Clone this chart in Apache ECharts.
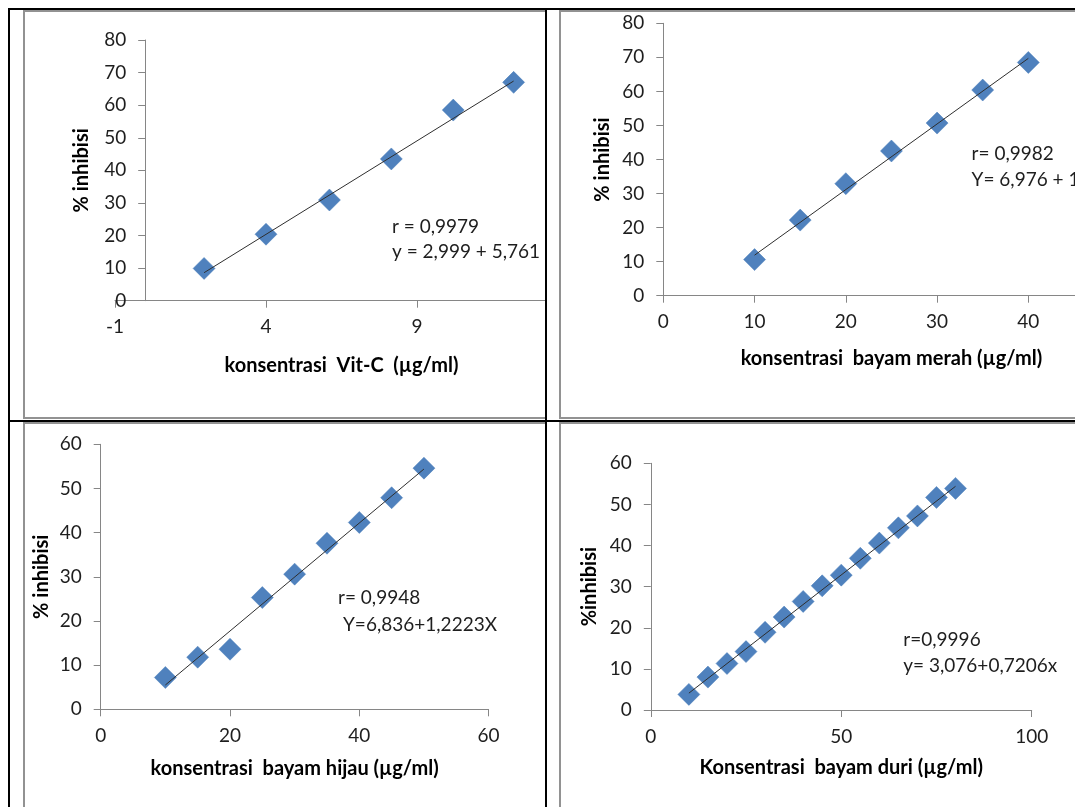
<!DOCTYPE html>
<html><head><meta charset="utf-8">
<script src="https://cdn.jsdelivr.net/npm/echarts@6/dist/echarts.min.js"></script>
<style>
html,body{margin:0;padding:0;background:#fff;width:1075px;height:807px;overflow:hidden;position:relative;}
.bl{position:absolute;background:#000;}
.cell{position:absolute;overflow:hidden;background:#fff;}
.frame{position:absolute;border:2px solid #929292;box-sizing:border-box;}
.chart{position:absolute;left:0;top:0;width:700px;}
</style></head><body>
<div class="cell" style="left:10px;top:10px;width:535px;height:410px;"><div class="frame" style="left:13px;top:0;width:800px;height:409px;"></div><div class="chart" id="cA" style="height:410px;"></div></div>
<div class="cell" style="left:547px;top:10px;width:528px;height:410px;"><div class="frame" style="left:12px;top:0;width:800px;height:409px;"></div><div class="chart" id="cB" style="height:410px;"></div></div>
<div class="cell" style="left:10px;top:422px;width:535px;height:385px;"><div class="frame" style="left:13px;top:0;width:800px;height:500px;"></div><div class="chart" id="cC" style="height:385px;"></div></div>
<div class="cell" style="left:547px;top:422px;width:528px;height:385px;"><div class="frame" style="left:12px;top:0;width:800px;height:500px;"></div><div class="chart" id="cD" style="height:385px;"></div></div>
<div class="bl" style="left:8px;top:8px;width:1067px;height:2px;"></div>
<div class="bl" style="left:8px;top:8px;width:2px;height:799px;"></div>
<div class="bl" style="left:545px;top:8px;width:2px;height:799px;"></div>
<div class="bl" style="left:8px;top:420px;width:1067px;height:2px;"></div>
<script>
// ---- data ----
const vitcX = [1.95, 4.0, 6.1, 8.15, 10.2, 12.2];
const vitcY = [9.9, 20.4, 30.9, 43.5, 58.5, 67.0];
const vitcTrendX = [1.95, 12.2];
const vitcTrendY = [8.6, 67.4];
const vitcXTicks = [-1, 4, 9, 14];
const vitcYTicks = [0, 10, 20, 30, 40, 50, 60, 70, 80];

const merahX = [10, 15, 20, 25, 30, 35, 40];
const merahY = [10.6, 22.2, 32.9, 42.5, 50.7, 60.4, 68.5];
const merahTrendX = [10, 40];
const merahTrendY = [11.9, 69.7];
const merahXTicks = [0, 10, 20, 30, 40, 50];
const merahYTicks = [0, 10, 20, 30, 40, 50, 60, 70, 80];

const hijauX = [10, 15, 20, 25, 30, 35, 40, 45, 50];
const hijauY = [7.2, 11.8, 13.6, 25.3, 30.6, 37.6, 42.3, 47.9, 54.6];
const hijauTrendX = [10, 50];
const hijauTrendY = [5.5, 54.4];
const hijauXTicks = [0, 20, 40, 60];
const hijauYTicks = [0, 10, 20, 30, 40, 50, 60];

const duriX = [10, 15, 20, 25, 30, 35, 40, 45, 50, 55, 60, 65, 70, 75, 80];
const duriY = [3.8, 8.0, 11.3, 14.2, 18.9, 22.6, 26.4, 30.2, 32.8, 36.9, 40.6, 44.3, 47.2, 51.7, 53.9];
const duriTrendX = [10, 80];
const duriTrendY = [4.1, 54.4];
const duriXTicks = [0, 50, 100];
const duriYTicks = [0, 10, 20, 30, 40, 50, 60];

const FONT = 'Lato';
const AXIS = '#868686';
const TXT = '#1e1e1e';

function zip(a, b) { return a.map((v, i) => [v, b[i]]); }

function axis(ticks, name, gap) {
  return {
    type: 'value', min: ticks[0], max: ticks[ticks.length - 1], interval: ticks[1] - ticks[0],
    name: name, nameLocation: 'middle', nameGap: gap, nameMoveOverlap: false,
    nameTextStyle: { fontSize: 20, fontWeight: 'bold', color: '#000', fontFamily: FONT },
    axisLine: { show: true, onZero: false, lineStyle: { color: AXIS, width: 1 } },
    axisTick: { show: true, inside: false, length: 7, lineStyle: { color: AXIS, width: 1 } },
    axisLabel: { fontSize: 19, color: TXT, fontFamily: FONT, margin: 18, showMinLabel: true, showMaxLabel: true },
    splitLine: { show: false }
  };
}

function build(id, c) {
  const chart = echarts.init(document.getElementById(id));
  const xa = axis(c.xt, c.xn, c.xg); xa.axisLabel.margin = 17;
  const ya = axis(c.yt, c.yn, c.yg); ya.axisLabel.margin = 19;
  // place the value axis where x = 0 (Excel's "axis crosses at 0")
  const xmin = c.xt[0], xmax = c.xt[c.xt.length - 1];
  if (xmin < 0) ya.offset = -((0 - xmin) / (xmax - xmin)) * c.g[2];
  chart.setOption({
    animation: false,
    textStyle: { fontFamily: FONT },
    grid: { left: c.g[0], top: c.g[1], width: c.g[2], height: c.g[3], containLabel: false, outerBoundsMode: 'none' },
    xAxis: xa,
    yAxis: ya,
    series: [
      { type: 'scatter', data: zip(c.x, c.y), symbol: 'diamond', symbolSize: 22,
        itemStyle: { color: '#4F81BD', opacity: 1, borderColor: '#4A7EBB', borderWidth: 0.5 }, z: 2 },
      { type: 'line', data: zip(c.tx, c.ty), symbol: 'none', lineStyle: { color: '#2e2e2e', width: 1 }, z: 3, silent: true }
    ],
    graphic: c.ann.map(a => ({ type: 'text', x: a[0], y: a[1],
      style: { text: a[2], fontSize: 19, fontFamily: FONT, fill: TXT, align: 'left', verticalAlign: 'middle' } }))
  });
}

build('cA', { g: [105, 30, 453, 260.7], x: vitcX, y: vitcY, tx: vitcTrendX, ty: vitcTrendY,
  xt: vitcXTicks, yt: vitcYTicks, xn: 'konsentrasi  Vit-C  (µg/ml)', yn: '% inhibisi', xg: 55, yg: 54,
  ann: [[382, 217, 'r = 0,9979'], [382, 242, 'y = 2,999 + 5,761']] });
build('cB', { g: [116.3, 13.3, 456.3, 272.4], x: merahX, y: merahY, tx: merahTrendX, ty: merahTrendY,
  xt: merahXTicks, yt: merahYTicks, xn: 'konsentrasi  bayam merah (µg/ml)', yn: '% inhibisi', xg: 52.6, yg: 51,
  ann: [[424.6, 144, 'r= 0,9982'], [424.6, 170, 'Y= 6,976 + 1']] });
build('cC', { g: [90.7, 22.3, 387.9, 265], x: hijauX, y: hijauY, tx: hijauTrendX, ty: hijauTrendY,
  xt: hijauXTicks, yt: hijauYTicks, xn: 'konsentrasi  bayam hijau (µg/ml)', yn: '% inhibisi', xg: 49, yg: 49,
  ann: [[328, 176, 'r= 0,9948'], [333, 203, 'Y=6,836+1,2223X']] });
build('cD', { g: [103.8, 41.3, 380.9, 246.7], x: duriX, y: duriY, tx: duriTrendX, ty: duriTrendY,
  xt: duriXTicks, yt: duriYTicks, xn: 'Konsentrasi  bayam duri (µg/ml)', yn: '%inhibisi', xg: 48, yg: 51,
  ann: [[356.3, 218, 'r=0,9996'], [356.3, 244, 'y= 3,076+0,7206x']] });
</script>
</body></html>
